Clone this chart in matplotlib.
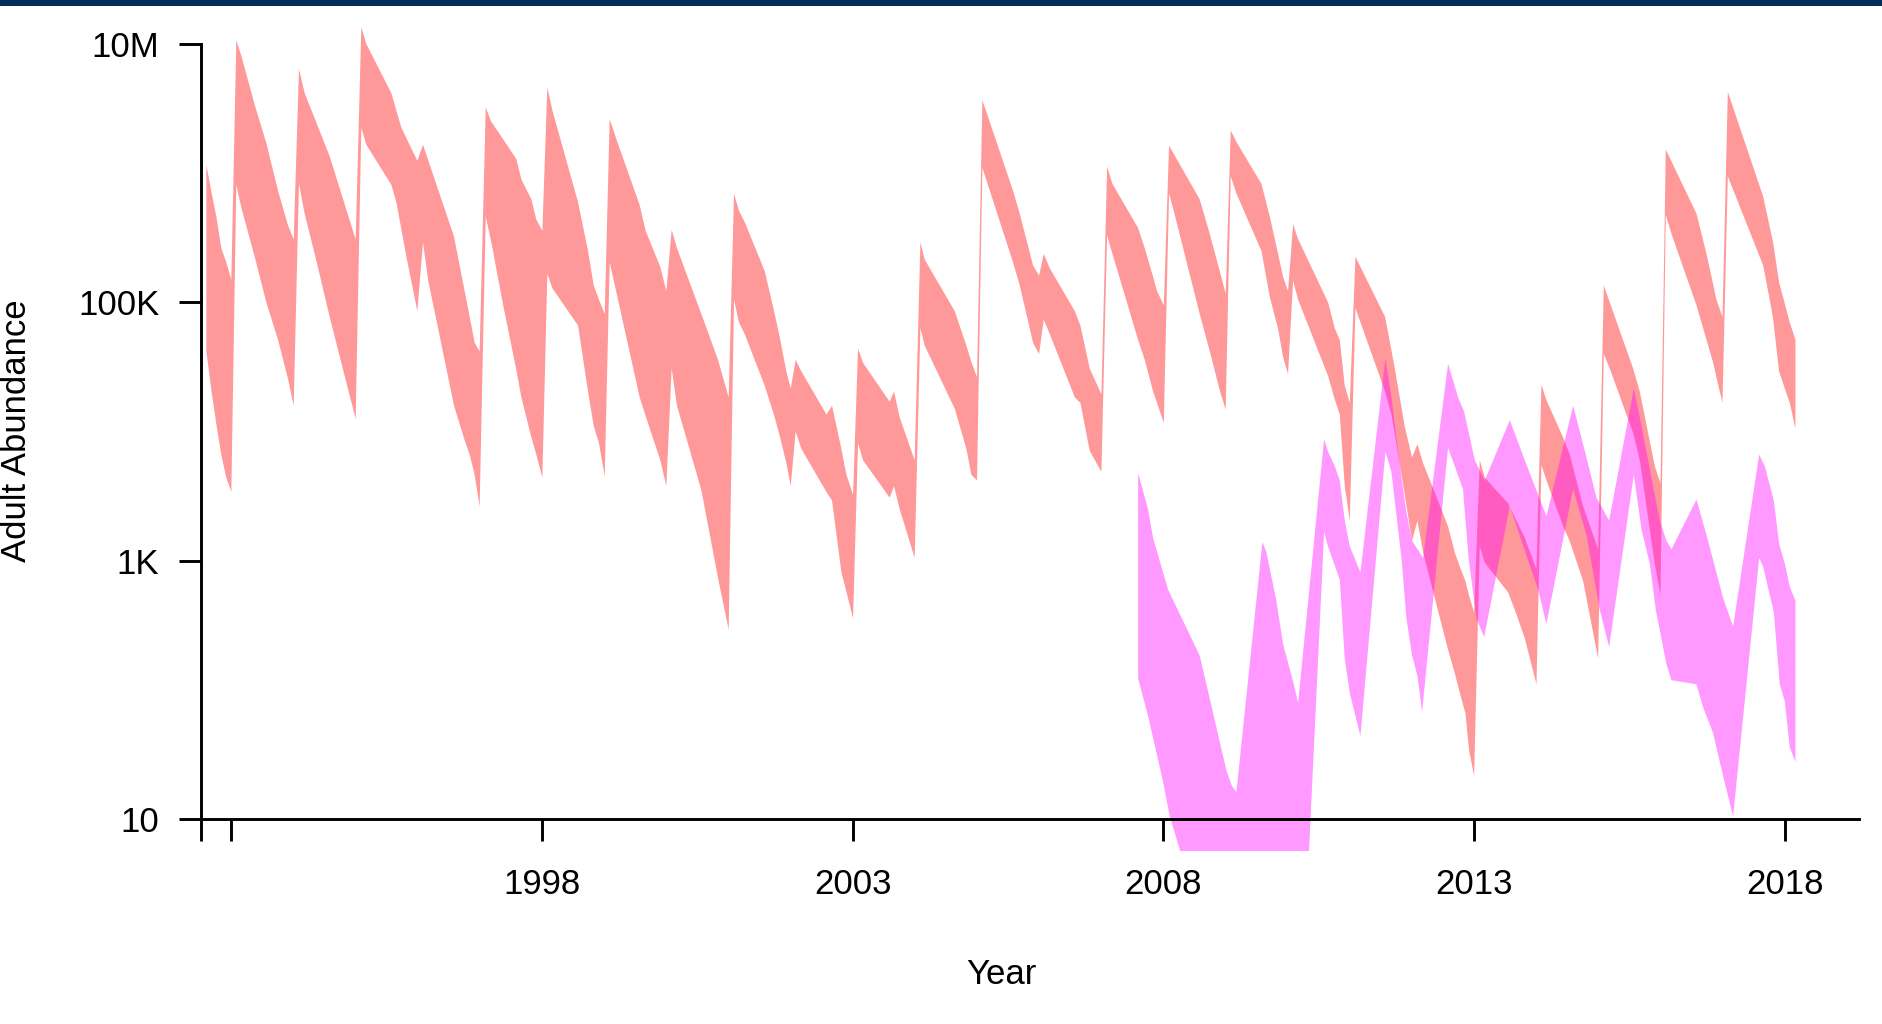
import numpy as np
import matplotlib.pyplot as plt
from matplotlib.patches import Rectangle

# Banda 1 (rojo): pasos de tiempo (año decimal) y log10 de los límites del intervalo
sal_t = [1992.606, 1992.70, 1992.767, 1992.847, 1992.927, 1993.008,
         1993.088, 1993.169, 1993.383, 1993.571, 1993.759, 1993.919, 1994.011,
         1994.096, 1994.187, 1994.375, 1994.59, 1994.777, 1995.008,
         1995.099, 1995.18, 1995.582, 1995.662, 1995.743, 1995.823, 1996.0,
         1996.091, 1996.172, 1996.59, 1996.761, 1996.842, 1996.922, 1997.002,
         1997.1, 1997.19, 1997.378, 1997.593, 1997.673, 1997.834, 1997.914, 1998.011,
         1998.091, 1998.172, 1998.585, 1998.746, 1998.837, 1998.922, 1999.014,
         1999.094, 1999.201, 1999.576, 1999.673, 1999.909, 2000.005,
         2000.091, 2000.177, 2000.569, 2000.837, 2001.008,
         2001.094, 2001.174, 2001.266, 2001.588, 2001.749, 2001.829, 2001.936, 2002.006,
         2002.086, 2002.178, 2002.58, 2002.671, 2002.821, 2002.902, 2003.009,
         2003.089, 2003.169, 2003.598, 2003.668, 2003.759, 2004.0,
         2004.092, 2004.161, 2004.644, 2004.832, 2004.912, 2005.003,
         2005.089, 2005.582, 2005.69, 2005.904, 2006.001,
         2006.076, 2006.173, 2006.575, 2006.666, 2006.816, 2007.004,
         2007.095, 2007.181, 2007.594, 2007.701, 2007.835, 2007.899, 2008.007,
         2008.092, 2008.167, 2008.585, 2008.746, 2008.907, 2009.003,
         2009.084, 2009.175, 2009.578, 2009.712, 2009.846, 2009.926, 2010.006,
         2010.087, 2010.168, 2010.65, 2010.757, 2010.838, 2010.918, 2010.999,
         2011.09, 2011.567, 2011.669, 2011.723, 2011.883, 2012.001,
         2012.087, 2012.178, 2012.366, 2012.58, 2012.688, 2012.768, 2012.859, 2012.918, 2012.999,
         2013.09, 2013.17, 2013.546, 2013.68, 2013.814, 2014.002,
         2014.082, 2014.162, 2014.43, 2014.538, 2014.752, 2014.994,
         2015.085, 2015.181, 2015.557, 2015.664, 2015.771, 2015.905, 2015.997,
         2016.082, 2016.173, 2016.576, 2016.737, 2016.844, 2016.897, 2016.994,
         2017.08, 2017.648, 2017.754, 2017.808, 2017.905, 2017.997, 2018.077, 2018.168]

sal_hi = [6.065, 5.825, 5.665, 5.42, 5.31, 5.176,
          7.03, 6.909, 6.531, 6.233, 5.865, 5.598, 5.487,
          6.807, 6.62, 6.393, 6.131, 5.843, 5.487,
          7.13, 7.0, 6.62, 6.487, 6.353, 6.273, 6.096,
          6.22, 6.105, 5.51, 5.088, 4.888, 4.688, 4.62,
          6.51, 6.398, 6.265, 6.109, 5.953, 5.798, 5.642, 5.554,
          6.664, 6.487, 5.776, 5.398, 5.132, 5.021, 4.91,
          6.42, 6.265, 5.754, 5.554, 5.274, 5.088,
          5.563, 5.42, 4.91, 4.555, 4.266,
          5.843, 5.709, 5.622, 5.243, 4.91, 4.733, 4.466, 4.333,
          4.555, 4.466, 4.133, 4.2, 3.866, 3.666, 3.511,
          4.644, 4.533, 4.231, 4.311, 4.11, 3.778,
          5.466, 5.332, 4.933, 4.666, 4.54, 4.421,
          6.566, 5.865, 5.687, 5.287, 5.207,
          5.376, 5.265, 4.933, 4.822, 4.488, 4.288,
          6.052, 5.918, 5.576, 5.42, 5.198, 5.088, 4.977,
          6.212, 6.15, 5.798, 5.531, 5.243, 5.065,
          6.331, 6.243, 5.918, 5.665, 5.376, 5.198, 5.088,
          5.607, 5.49, 5.0, 4.8, 4.71, 4.355, 4.222,
          5.354, 4.888, 4.63, 4.488, 4.04, 3.8,
          3.902, 3.755, 3.53, 3.266, 3.066, 2.955, 2.844, 2.73, 2.6,
          3.778, 3.644, 3.444, 3.311, 3.178, 2.933,
          4.364, 4.244, 3.955, 3.822, 3.422, 3.089,
          5.132, 5.0, 4.488, 4.31, 4.053, 3.733, 3.6,
          6.185, 6.092, 5.687, 5.376, 5.14, 5.021, 4.888,
          6.629, 5.821, 5.585, 5.466, 5.154, 4.99, 4.844, 4.71]

sal_lo = [4.621, 4.275, 4.057, 3.82, 3.644, 3.533,
          5.91, 5.733, 5.355, 5.0, 4.71, 4.41, 4.2,
          5.918, 5.687, 5.323, 4.888, 4.533, 4.098,
          6.353, 6.22, 5.91, 5.776, 5.567, 5.355, 4.933,
          5.466, 5.177, 4.2, 3.933, 3.822, 3.666, 3.42,
          5.665, 5.466, 4.985, 4.475, 4.266, 3.955, 3.822, 3.644,
          5.221, 5.11, 4.821, 4.31, 4.044, 3.911, 3.653,
          5.31, 5.08, 4.266, 4.12, 3.778, 3.578,
          4.488, 4.2, 3.546, 2.867, 2.467,
          5.021, 4.844, 4.755, 4.355, 4.11, 3.968, 3.756, 3.578,
          4.0, 3.866, 3.533, 3.466, 2.911, 2.76, 2.555,
          3.911, 3.778, 3.489, 3.578, 3.4, 3.022,
          4.8, 4.666, 4.178, 3.866, 3.666, 3.622,
          6.042, 5.31, 5.132, 4.688, 4.6,
          4.866, 4.755, 4.266, 4.222, 3.85, 3.689,
          5.518, 5.376, 4.71, 4.555, 4.31, 4.222, 4.066,
          5.843, 5.709, 4.91, 4.625, 4.32, 4.169,
          5.976, 5.843, 5.398, 5.043, 4.795, 4.577, 4.444,
          5.168, 5.021, 4.43, 4.25, 4.133, 3.578, 3.311,
          4.955, 4.31, 4.133, 3.977, 3.511, 3.155,
          3.311, 3.066, 2.711, 2.311, 2.13, 1.98, 1.82, 1.533, 1.333,
          3.111, 2.986, 2.756, 2.586, 2.4, 2.044,
          3.742, 3.622, 3.27, 3.15, 2.844, 2.244,
          4.6, 4.488, 3.99, 3.778, 3.422, 2.977, 2.733,
          5.678, 5.531, 4.977, 4.71, 4.533, 4.42, 4.222,
          5.976, 5.287, 5.021, 4.875, 4.466, 4.333, 4.222, 4.022]

# Banda 2 (magenta): límite superior e inferior con sus propios tiempos
mag_hi_t = [2007.594, 2007.754, 2007.835, 2008.076, 2008.585, 2008.693, 2008.853, 2009.014,
            2009.095, 2009.175, 2009.594, 2009.658, 2009.819, 2009.926, 2010.087, 2010.168,
            2010.586, 2010.65, 2010.757, 2010.838, 2010.918, 2010.999, 2011.17, 2011.572,
            2011.669, 2011.749, 2011.83, 2011.91, 2012.001, 2012.178, 2012.58, 2012.741,
            2012.838, 2013.01, 2013.17, 2013.573, 2013.814, 2014.028, 2014.162, 2014.592,
            2014.806, 2014.967, 2015.171, 2015.568, 2015.691, 2015.852, 2015.986, 2016.093,
            2016.173, 2016.576, 2016.737, 2017.005, 2017.165, 2017.584, 2017.675, 2017.82,
            2017.905, 2017.997, 2018.077, 2018.168]
mag_hi = [3.679, 3.399, 3.177, 2.777, 2.266, 2.044, 1.711, 1.378,
          1.266, 1.208, 3.146, 3.066, 2.689, 2.355, 2.066, 1.9,
          3.942, 3.844, 3.733, 3.622, 3.311, 3.111, 2.911, 4.569,
          4.266, 3.955, 3.644, 3.378, 3.155, 3.022, 4.524, 4.266,
          4.155, 3.778, 3.622, 4.088, 3.778, 3.511, 3.346, 4.2,
          3.8, 3.489, 3.311, 4.333, 4.044, 3.644, 3.311, 3.155,
          3.089, 3.475, 3.2, 2.711, 2.489, 3.822, 3.733, 3.466,
          3.133, 2.977, 2.8, 2.689]

mag_lo_t = [2007.594, 2007.754, 2007.996, 2008.103, 2008.274, 2008.4, 2010.17, 2010.586,
            2010.65, 2010.838, 2010.918, 2010.999, 2011.17, 2011.572, 2011.669, 2011.83,
            2011.91, 2012.001, 2012.087, 2012.162, 2012.58, 2012.82, 2012.91, 2013.036,
            2013.16, 2013.573, 2014.028, 2014.162, 2014.591, 2014.806, 2015.02, 2015.171,
            2015.568, 2015.691, 2015.825, 2015.921, 2016.093, 2016.173, 2016.576, 2016.683,
            2016.844, 2017.005, 2017.165, 2017.584, 2017.648, 2017.82, 2017.916, 2017.997,
            2018.077, 2018.168]
mag_lo = [2.089, 1.8, 1.289, 1.022, 0.75, -1, -1, 3.22,
          3.11, 2.853, 2.244, 1.977, 1.644, 3.844, 3.688, 3.022,
          2.555, 2.266, 2.111, 1.831, 3.875, 3.555, 3.022, 2.555,
          2.409, 3.422, 2.777, 2.511, 3.555, 3.2, 2.622, 2.333,
          3.666, 3.244, 2.977, 2.622, 2.2, 2.076, 2.044, 1.866,
          1.666, 1.333, 1.022, 3.022, 2.955, 2.6, 2.044, 1.911,
          1.555, 1.444]

anios_eje = [1998, 2003, 2008, 2013, 2018]
y_ticks = [10, 1e3, 1e5, 1e7]
y_etiquetas = ['10', '1K', '100K', '10M']

plt.rcParams['font.family'] = ['Liberation Sans', 'DejaVu Sans']


def banda(ax, t_hi, hi, t_lo, lo, color):
    # polígono: límite superior hacia adelante, inferior de regreso
    xs = np.concatenate([t_hi, t_lo[::-1]])
    ys = np.power(10.0, np.concatenate([hi, lo[::-1]]))
    ax.fill(xs, ys, color=color, lw=0)


W, H = 1883, 1024
fig = plt.figure(figsize=(W / 100, H / 100), dpi=100)

# franja superior
fig.add_artist(Rectangle((0, 1 - 6 / H), 1, 6 / H, transform=fig.transFigure,
                         color='#00305A', lw=0))

x0, x1 = 201, 1859
y_top, y_bot = 8, 850.6
ax = fig.add_axes([x0 / W, 1 - y_bot / H, (x1 - x0) / W, (y_bot - y_top) / H])

banda(ax, np.array(sal_t), np.array(sal_hi), np.array(sal_t), np.array(sal_lo),
      (1, 0, 0, 0.4))
banda(ax, np.array(mag_hi_t), np.array(mag_hi), np.array(mag_lo_t), np.array(mag_lo),
      (1, 0, 1, 0.4))

ax.set_yscale('log')
x_ini, x_fin = 1992.52, 2019.19
ax.set_xlim(x_ini, x_fin)
ax.set_ylim(10 ** 0.757, 10 ** 7.279)

for s in ['top', 'right']:
    ax.spines[s].set_visible(False)
ax.spines['bottom'].set_position(('data', 10))
ax.spines['left'].set_bounds(10, 1e7)
for s in ['bottom', 'left']:
    ax.spines[s].set_linewidth(2.1)

ax.set_xticks([x_ini, 1993] + anios_eje)
ax.set_xticklabels(['', ''] + [str(a) for a in anios_eje])
ax.set_yticks(y_ticks)
ax.set_yticklabels(y_etiquetas)
ax.yaxis.set_minor_locator(plt.NullLocator())
ax.tick_params(axis='x', direction='out', length=16, width=2.1, pad=19, labelsize=25)
ax.tick_params(axis='y', direction='out', length=16, width=2.1, pad=14, labelsize=25)

fig.text(17 / W, 1 - 431 / H, 'Adult Abundance', rotation=90, fontsize=25,
         ha='center', va='center')
fig.text(1001 / W, 1 - 975 / H, 'Year', fontsize=25, ha='center', va='center')

fig.savefig('out.png', dpi=100)
